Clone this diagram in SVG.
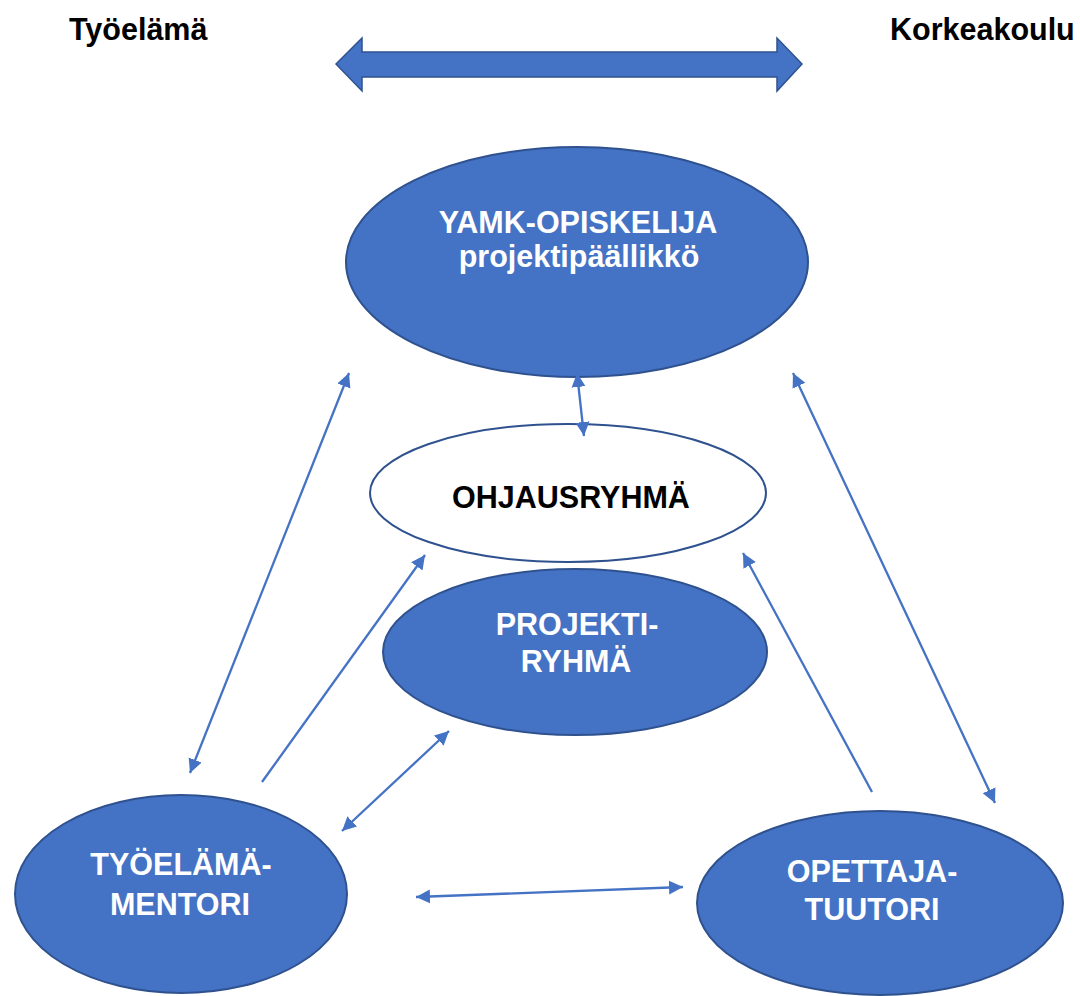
<svg xmlns="http://www.w3.org/2000/svg" width="1080" height="996" viewBox="0 0 1080 996">
<defs>
<style>
.node{fill:#4472C4;stroke:#2F528F;stroke-width:2}
.wnode{fill:#FFFFFF;stroke:#2F528F;stroke-width:2}
.t{font-family:"Liberation Sans",Arial,sans-serif;font-weight:bold;font-size:30.5px;text-anchor:middle;fill:#FFFFFF}
.tb{font-family:"Liberation Sans",Arial,sans-serif;font-weight:bold;font-size:30.5px;fill:#000000}
.c{stroke:#4472C4;stroke-width:2.3;fill:none}
</style>
<marker id="ah" markerUnits="userSpaceOnUse" markerWidth="16" markerHeight="16" refX="14" refY="7" orient="auto-start-reverse" viewBox="0 0 16 14">
<path d="M0,0 L14,7 L0,14 Z" fill="#4472C4"/>
</marker>
</defs>
<rect width="1080" height="996" fill="#FFFFFF"/>
<text class="tb" x="69" y="40">Työelämä</text>
<text class="tb" x="890" y="40">Korkeakoulu</text>
<polygon points="336,64 362,38 362,52 777,52 777,38 802,64 777,91 777,77 362,77 362,91" fill="#4472C4" stroke="#2F528F" stroke-width="1.5"/>
<g id="yamk">
<ellipse class="node" cx="577" cy="262" rx="231" ry="115"/>
<text class="t" x="578" y="233">YAMK-OPISKELIJA</text>
<text class="t" x="579" y="267">projektipäällikkö</text>
</g>
<g id="ohjausryhma">
<ellipse class="wnode" cx="568" cy="493" rx="198" ry="69"/>
<text class="tb" x="571" y="508" text-anchor="middle">OHJAUSRYHMÄ</text>
</g>
<g id="projektiryhma">
<ellipse class="node" cx="575" cy="652" rx="192" ry="83"/>
<text class="t" x="577" y="635">PROJEKTI-</text>
<text class="t" x="576" y="672">RYHMÄ</text>
</g>
<g id="tyoelamamentori">
<ellipse class="node" cx="181" cy="894" rx="166" ry="99"/>
<text class="t" x="181" y="875">TYÖELÄMÄ-</text>
<text class="t" x="180" y="915">MENTORI</text>
</g>
<g id="opettajatuutori">
<ellipse class="node" cx="880" cy="903" rx="183" ry="92"/>
<text class="t" x="872" y="882">OPETTAJA-</text>
<text class="t" x="872" y="920">TUUTORI</text>
</g>
<g id="connectors">
<line class="c" x1="190" y1="773" x2="349" y2="373" marker-start="url(#ah)" marker-end="url(#ah)"/>
<line class="c" x1="262" y1="782" x2="425" y2="555" marker-end="url(#ah)"/>
<line class="c" x1="342" y1="831" x2="449" y2="731" marker-start="url(#ah)" marker-end="url(#ah)"/>
<line class="c" x1="416" y1="897" x2="683" y2="887" marker-start="url(#ah)" marker-end="url(#ah)"/>
<line class="c" x1="577" y1="373" x2="584" y2="436" marker-start="url(#ah)" marker-end="url(#ah)"/>
<line class="c" x1="872" y1="792" x2="743" y2="553" marker-end="url(#ah)"/>
<line class="c" x1="793" y1="373" x2="995" y2="803" marker-start="url(#ah)" marker-end="url(#ah)"/>
</g>
</svg>
